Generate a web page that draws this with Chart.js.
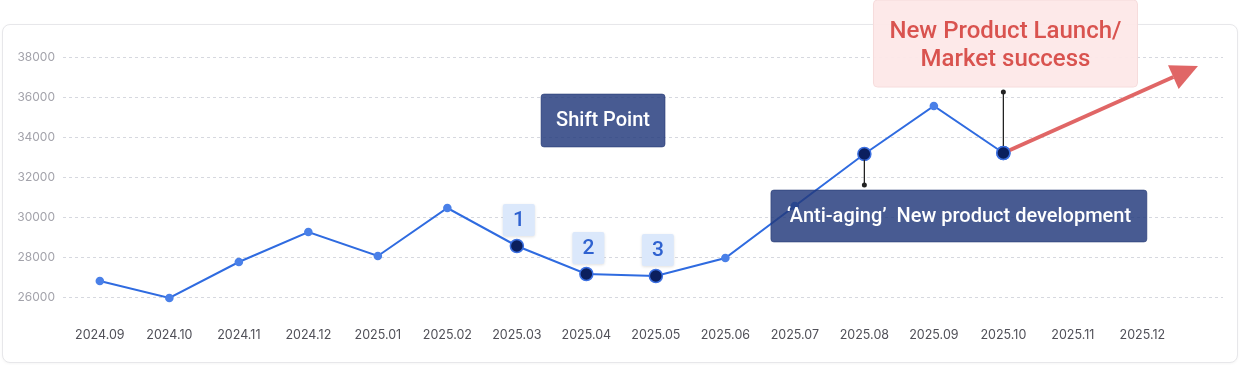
<!DOCTYPE html>
<html>
<head>
<meta charset="utf-8">
<script src="https://cdn.jsdelivr.net/npm/chart.js@4"></script>
<style>
  body { margin: 0; background: #fff; }
  #card {
    position: absolute; left: 2px; top: 24px; width: 1234px; height: 337px;
    border: 1px solid #e7e7ea; border-radius: 8px; background: #fff;
    box-shadow: 0 1px 3px rgba(0,0,0,0.04);
  }
  #wrap { position: absolute; left: 0; top: 0; width: 1240px; height: 365px; }
</style>
</head>
<body>
<div id="card"></div>
<div id="wrap"><canvas id="chart"></canvas></div>
<script>
var months = ['2024.09','2024.10','2024.11','2024.12','2025.01','2025.02','2025.03','2025.04',
  '2025.05','2025.06','2025.07','2025.08','2025.09','2025.10','2025.11','2025.12'];
var sales = [26800, 25950, 27750, 29250, 28050, 30450, 28550, 27150, 27050, 27950, 30550, 33150, 35550, 33200];
var highlighted = [6, 7, 8, 11, 13];
var yTicks = [26000, 28000, 30000, 32000, 34000, 36000, 38000];
var numbered = [{ idx: 6, text: '1' }, { idx: 7, text: '2' }, { idx: 8, text: '3' }];
var trendTarget = { x: 15.8, y: 37550 };

var ctx = document.getElementById('chart');

function roundBox(c, x, y, w, h, r, fill, stroke) {
  c.beginPath();
  c.roundRect(x, y, w, h, r);
  c.fillStyle = fill;
  c.fill();
  if (stroke) { c.strokeStyle = stroke; c.lineWidth = 1; c.stroke(); }
}

var notesPlugin = {
  id: 'notes',
  afterDatasetsDraw: function(chart) {
    var c = chart.ctx, xs = chart.scales.x, ys = chart.scales.y;
    var px = function(i) { return xs.getPixelForValue(i); };
    var py = function(v) { return ys.getPixelForValue(v); };
    c.save();

    // numbered tags above points
    numbered.forEach(function(n) {
      var x = px(n.idx) + 2, y = py(sales[n.idx]) - 26;
      c.shadowColor = 'rgba(0,0,0,0.12)'; c.shadowBlur = 3; c.shadowOffsetY = 1;
      roundBox(c, x - 16, y - 16, 32, 32, 2, '#dbe8fb');
      c.shadowColor = 'transparent';
      c.fillStyle = '#2f62d0';
      c.font = '500 21px Roboto';
      c.textAlign = 'center'; c.textBaseline = 'middle';
      c.fillText(n.text, x, y + 1);
    });

    // Shift Point box
    var sx = px(7.24), sy = py(34850);
    roundBox(c, sx - 62, sy - 26, 124, 53, 3, 'rgba(35,58,124,0.83)', 'rgba(30,50,110,0.5)');
    c.fillStyle = '#fff';
    c.font = '500 20px Roboto';
    c.textAlign = 'center'; c.textBaseline = 'middle';
    c.fillText('Shift Point', sx, sy + 1);

    // connector for Anti-aging box
    var ax = px(11), ay = py(sales[11]);
    c.strokeStyle = '#222'; c.lineWidth = 1.3;
    c.beginPath(); c.moveTo(ax, ay + 6); c.lineTo(ax, ay + 31); c.stroke();
    c.fillStyle = '#222';
    c.beginPath(); c.arc(ax, ay + 31, 2.5, 0, Math.PI * 2); c.fill();

    // Anti-aging box
    var bx = px(12.36), by = py(30050);
    roundBox(c, bx - 188, by - 26, 376, 52, 3, 'rgba(35,58,124,0.83)', 'rgba(30,50,110,0.5)');
    c.fillStyle = '#fff';
    c.font = '500 20px Roboto';
    c.fillText('\u2018Anti-aging\u2019  New product development', bx, by + 1);

    // red trend arrow
    var x0 = px(13), y0 = py(sales[13]);
    var x1 = px(trendTarget.x), y1 = py(trendTarget.y);
    var ang = Math.atan2(y1 - y0, x1 - x0);
    var headLen = 27, headW = 13;
    var bx1 = x1 - headLen * Math.cos(ang), by1 = y1 - headLen * Math.sin(ang);
    c.strokeStyle = '#e06666'; c.lineWidth = 4;
    c.beginPath(); c.moveTo(x0, y0); c.lineTo(bx1, by1); c.stroke();
    c.fillStyle = '#e06666';
    c.beginPath();
    c.moveTo(x1, y1);
    c.lineTo(bx1 + headW * Math.sin(ang), by1 - headW * Math.cos(ang));
    c.lineTo(bx1 - headW * Math.sin(ang), by1 + headW * Math.cos(ang));
    c.closePath(); c.fill();

    // redraw last highlighted point over arrow start
    c.beginPath(); c.arc(x0, y0, 6.5, 0, Math.PI * 2);
    c.fillStyle = '#0b1f5e'; c.fill();
    c.strokeStyle = '#3b6fe0'; c.lineWidth = 1.5; c.stroke();

    // connector for launch box
    c.strokeStyle = '#222'; c.lineWidth = 1.3;
    c.beginPath(); c.moveTo(x0, y0 - 7); c.lineTo(x0, y0 - 61); c.stroke();
    c.fillStyle = '#222';
    c.beginPath(); c.arc(x0, y0 - 61, 2.5, 0, Math.PI * 2); c.fill();

    // launch box
    var lx = px(13.03), ly = py(sales[13]) - 110;
    roundBox(c, lx - 132, ly - 43, 264, 87, 4, 'rgba(253,232,232,0.95)', '#f6dcdc');
    c.fillStyle = '#d9534f';
    c.font = '500 24px Roboto';
    c.textAlign = 'center'; c.textBaseline = 'middle';
    c.fillText('New Product Launch/', lx, ly - 11);
    c.fillText('Market success', lx, ly + 17);

    c.restore();
  }
};

new Chart(ctx, {
  type: 'line',
  data: {
    datasets: [{
      data: sales.map(function(v, i) { return { x: i, y: v }; }),
      borderColor: '#2f6be0',
      borderWidth: 2,
      tension: 0,
      pointRadius: sales.map(function(v, i) { return highlighted.indexOf(i) >= 0 ? 6.5 : 4.3; }),
      pointBackgroundColor: sales.map(function(v, i) { return highlighted.indexOf(i) >= 0 ? '#0b1f5e' : '#4a80e8'; }),
      pointBorderColor: sales.map(function(v, i) { return highlighted.indexOf(i) >= 0 ? '#3b6fe0' : '#4a80e8'; }),
      pointBorderWidth: sales.map(function(v, i) { return highlighted.indexOf(i) >= 0 ? 1.5 : 0; })
    }]
  },
  options: {
    responsive: true,
    maintainAspectRatio: false,
    animation: false,
    layout: { padding: { top: 57, right: 17, bottom: 25, left: 0 } },
    plugins: { legend: { display: false }, tooltip: { enabled: false } },
    scales: {
      x: {
        type: 'linear',
        min: -0.53,
        max: 16.16,
        afterBuildTicks: function(scale) {
          scale.ticks = months.map(function(m, i) { return { value: i }; });
        },
        afterFit: function(scale) { scale.height = 30; },
        grid: { display: false },
        border: { display: false },
        ticks: {
          padding: 10,
          color: '#505058',
          font: { family: 'Inter', size: 12.5 },
          maxRotation: 0,
          autoSkip: false,
          callback: function(v) { return months[v]; }
        }
      },
      y: {
        min: 25350,
        max: 38000,
        afterBuildTicks: function(scale) {
          scale.ticks = yTicks.map(function(v) { return { value: v }; });
        },
        afterFit: function(scale) { scale.width = 63; },
        border: { display: false, dash: [3, 3] },
        grid: { color: '#d6d8df', lineWidth: 1, tickLength: 0, drawTicks: false },
        ticks: {
          padding: 8,
          color: '#a3a3ab',
          font: { family: 'Inter', size: 12 },
          callback: function(v) { return v; }
        }
      }
    }
  },
  plugins: [notesPlugin]
});
</script>
</body>
</html>
